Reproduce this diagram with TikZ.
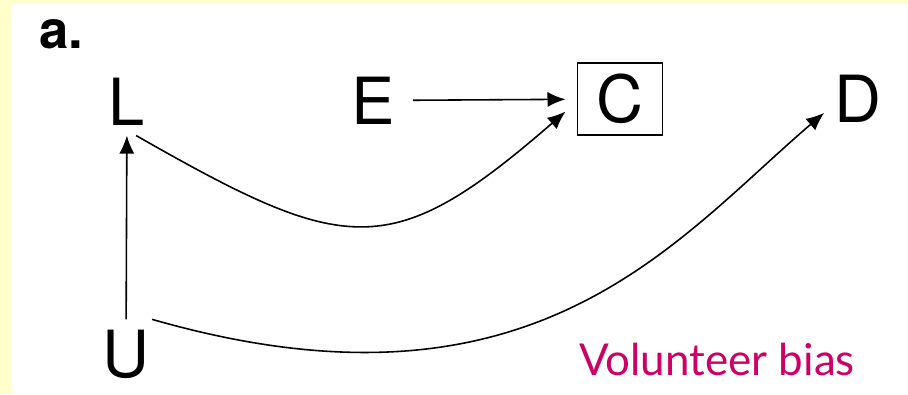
\documentclass[tikz,border=0pt]{standalone}
\usepackage{fontspec}
\setmainfont{TeX Gyre Heros}
\newfontfamily\biasfont{Lato}
\usetikzlibrary{arrows.meta,positioning}
\definecolor{paleyellow}{RGB}{255,255,204}
\definecolor{biasmagenta}{RGB}{204,0,102}

\tikzset{
  var/.style={inner sep=0.2cm, font=\fontsize{37}{40}\selectfont},
  boxed/.style={var, draw, line width=0.8pt, minimum width=1.7cm, minimum height=1.44cm, outer sep=0.24cm},
  edge/.style={-{Latex[length=0.36cm,width=0.3cm]}, line width=0.9pt},
}

\begin{document}
\begin{tikzpicture}
    % Background
    \fill[paleyellow] (0,0) rectangle (18.16,7.88);
    \fill[white] (0.24,0) rectangle (18.16,7.80);
    \useasboundingbox (0,0) rectangle (18.16,7.88);

    \node[anchor=base west, font=\bfseries\fontsize{30}{32}\selectfont] (tag) at (0.66,6.90) {a.};

    % Variables
    \node[var] (L) at (2.54,5.85) {L};
    \node[var] (E) at (7.46,5.87) {E};
    \node[boxed] (C) at (12.40,5.90) {C};
    \node[var] (D) at (17.16,5.91) {D};
    \node[var] (U) at (2.52,0.80) {U};

    % Arrows
    \draw[edge, shorten <=0.16cm] (E) -- (C);
    \draw[edge] (U) -- (L);
    \draw[edge] (L.-75) .. controls (6.94,2.76) and (7.82,2.62) .. (C.193);
    \draw[edge] (U.53) .. controls (10.68,-0.70) and (13.48,3.06) .. (D.203);

    \node[anchor=base west, text=biasmagenta, font=\biasfont\fontsize{25}{28}\selectfont] (bias) at (11.46,0.38) {Volunteer bias};
\end{tikzpicture}
\end{document}
